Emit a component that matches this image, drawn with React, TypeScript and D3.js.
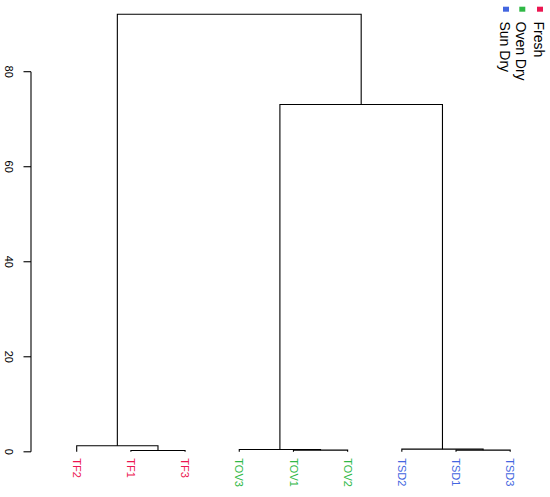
import React from "react";
import * as d3 from "d3";

const leafLabels = ["TF2", "TF1", "TF3", "TOV3", "TOV1", "TOV2", "TSD2", "TSD1", "TSD3"];
const leafGroups = ["Fresh", "Fresh", "Fresh", "Oven Dry", "Oven Dry", "Oven Dry", "Sun Dry", "Sun Dry", "Sun Dry"];
// R-style merge matrix: negative = leaf index (1-based), positive = earlier merge (1-based)
const mergeLeft = [-2, -5, -8, -1, -4, -7, 5, 4];
const mergeRight = [-3, -6, -9, 1, 2, 3, 6, 7];
const mergeHeight = [0.27, 0.35, 0.35, 1.26, 0.48, 0.56, 73.1, 92.1];
const yTicks = [0, 20, 40, 60, 80];
const legendNames = ["Fresh", "Oven Dry", "Sun Dry"];
const legendColors = ["#EC1651", "#2FB845", "#4366E0"];

const W = 550;
const H = 497;
const FONT = "'Liberation Sans', Arial, Helvetica, sans-serif";

export default function App() {
  const x = d3.scaleLinear().domain([1, 9]).range([76.7, 510.2]);
  const y = d3.scaleLinear().domain([0, 80]).range([451.8, 71.7]);
  const color = d3.scaleOrdinal<string, string>().domain(legendNames).range(legendColors);

  // compute node positions
  const nodeX: number[] = [];
  const nodeH: number[] = [];
  const posOf = (ref: number) => (ref < 0 ? x(-ref) : nodeX[ref - 1]);
  const hOf = (ref: number) => (ref < 0 ? 0 : nodeH[ref - 1]);
  const segs: string[] = [];
  mergeLeft.forEach((l, i) => {
    const r = mergeRight[i];
    const xl = posOf(l);
    const xr = posOf(r);
    const h = mergeHeight[i];
    const p = d3.path();
    p.moveTo(xl, y(hOf(l)));
    p.lineTo(xl, y(h));
    p.lineTo(xr, y(h));
    p.lineTo(xr, y(hOf(r)));
    segs.push(p.toString());
    nodeX.push((xl + xr) / 2);
    nodeH.push(h);
  });

  const axisX = 31;
  const legendX = [540, 522.3, 506];

  return (
    <svg
      width={W}
      height={H}
      style={{ position: "absolute", left: 0, top: 0, background: "#fff" }}
      fontFamily={FONT}
    >
      <rect x={0} y={0} width={W} height={H} fill="#fff" />
      {/* y axis */}
      <g stroke="#000" strokeWidth={1.1} fill="none">
        <line x1={axisX} x2={axisX} y1={y(0)} y2={y(80)} />
        {yTicks.map((t) => (
          <line key={t} x1={axisX - 7.5} x2={axisX} y1={y(t)} y2={y(t)} />
        ))}
      </g>
      {yTicks.map((t) => (
        <text
          key={t}
          transform={`translate(9.2,${y(t)}) rotate(90)`}
          textAnchor="middle"
          dy="0.35em"
          fontSize={11}
          fill="#000"
        >
          {t}
        </text>
      ))}
      {/* dendrogram */}
      <g stroke="#000" strokeWidth={1.1} fill="none">
        {segs.map((d, i) => (
          <path key={i} d={d} />
        ))}
      </g>
      {/* leaf labels */}
      {leafLabels.map((lab, i) => (
        <text
          key={lab}
          transform={`translate(${x(i + 1)},458.3) rotate(90)`}
          textAnchor="start"
          dy="0.35em"
          fontSize={11}
          fill={color(leafGroups[i])}
        >
          {lab}
        </text>
      ))}
      {/* legend */}
      {legendNames.map((n, i) => (
        <g key={n}>
          <rect x={legendX[i] - 3} y={6.7} width={6} height={5} fill={color(n)} />
          <text
            transform={`translate(${legendX[i] - 1},21.5) rotate(90)`}
            textAnchor="start"
            dy="0.35em"
            fontSize={14}
            fill="#000"
          >
            {n}
          </text>
        </g>
      ))}
    </svg>
  );
}
